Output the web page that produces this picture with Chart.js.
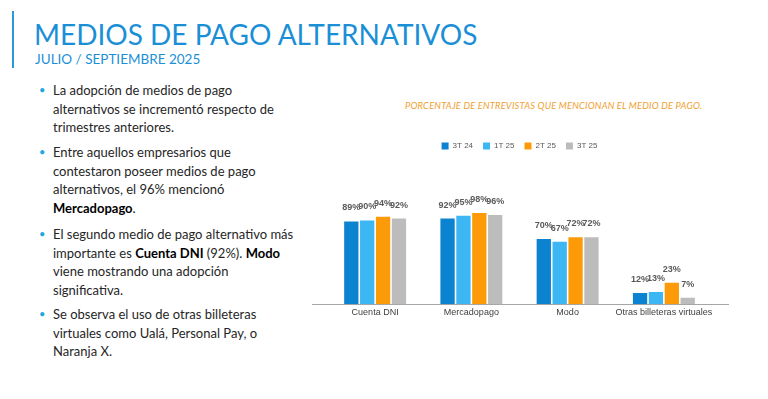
<!DOCTYPE html>
<html>
<head>
<meta charset="utf-8">
<script src="https://cdn.jsdelivr.net/npm/chart.js@4.4.1/dist/chart.umd.min.js"></script>
<style>
  html, body { margin: 0; padding: 0; background: #fff; }
  body { width: 768px; height: 399px; position: relative; overflow: hidden; font-family: 'Lato', sans-serif; }
  .bar-left { position: absolute; left: 12px; top: 11px; width: 2px; height: 57px; background: #2a9ad8; }
  .title { position: absolute; left: 34px; top: 18px; font-size: 28px; color: #1b8fd6; white-space: nowrap; line-height: 32px; }
  .subtitle { position: absolute; left: 35px; top: 51px; font-size: 13.5px; color: #1b8fd6; white-space: nowrap; line-height: 16px; }
  .bullets { position: absolute; left: 53px; top: 0; color: #262626; font-size: 13px; line-height: 18.5px; }
  .bullets p { position: absolute; left: 0; margin: 0; white-space: nowrap; }
  .bullets p::before { content: '•'; position: absolute; left: -14px; color: #22a6e0; font-size: 11px; }
  .bullets b { color: #000; }
  .chart-note { position: absolute; left: 405px; top: 100px; font-size: 9.3px; font-style: italic; color: #f0a030; white-space: nowrap; letter-spacing: 0.2px; }
  .chart-box { position: absolute; left: 300px; top: 132px; width: 440px; height: 189px; }
</style>
</head>
<body>
<div class="bar-left"></div>
<div class="title">MEDIOS DE PAGO ALTERNATIVOS</div>
<div class="subtitle">JULIO / SEPTIEMBRE 2025</div>
<div class="bullets">
  <p style="top:81px">La adopción de medios de pago<br>alternativos se incrementó respecto de<br>trimestres anteriores.</p>
  <p style="top:143px">Entre aquellos empresarios que<br>contestaron poseer medios de pago<br>alternativos, el 96% mencionó<br><b>Mercadopago</b>.</p>
  <p style="top:225px">El segundo medio de pago alternativo más<br>importante es <b>Cuenta DNI</b> (92%). <b>Modo</b><br>viene mostrando una adopción<br>significativa.</p>
  <p style="top:305px">Se observa el uso de otras billeteras<br>virtuales como Ualá, Personal Pay, o<br>Naranja X.</p>
</div>
<div class="chart-note">PORCENTAJE DE ENTREVISTAS QUE MENCIONAN EL MEDIO DE PAGO.</div>
<div class="chart-box"><canvas id="chart" width="440" height="189"></canvas></div>

<script>
const categories = ['Cuenta DNI', 'Mercadopago', 'Modo', 'Otras billeteras virtuales'];
const periods = ['3T 24', '1T 25', '2T 25', '3T 25'];
const values3T24 = [89, 92, 70, 12];
const values1T25 = [90, 95, 67, 13];
const values2T25 = [94, 98, 72, 23];
const values3T25 = [92, 96, 72, 7];
const colors = ['#0b83d1', '#3db6f4', '#fd9a08', '#bcbcbc'];

// Etiquetas de porcentaje sobre cada barra
const valueLabels = {
  id: 'valueLabels',
  afterDatasetsDraw(chart) {
    const { ctx } = chart;
    ctx.save();
    ctx.font = 'bold 9px Arial, "Liberation Sans", sans-serif';
    ctx.fillStyle = '#595959';
    ctx.textAlign = 'center';
    ctx.textBaseline = 'bottom';
    chart.data.datasets.forEach((ds, i) => {
      chart.getDatasetMeta(i).data.forEach((bar, j) => {
        ctx.fillText(ds.data[j] + '%', bar.x, bar.y - 9);
      });
    });
    ctx.restore();
  },
};

// Línea base más ancha que el área de categorías
const baseLine = {
  id: 'baseLine',
  beforeDatasetsDraw(chart) {
    const { ctx, chartArea } = chart;
    const y = Math.round(chart.scales.y.getPixelForValue(0)) + 0.5;
    ctx.save();
    ctx.strokeStyle = '#a6a6a6';
    ctx.lineWidth = 1;
    ctx.beginPath();
    ctx.moveTo(chartArea.left - 15, y);
    ctx.lineTo(chartArea.right + 17, y);
    ctx.stroke();
    ctx.restore();
  },
};

const seriesValues = [values3T24, values1T25, values2T25, values3T25];

new Chart(document.getElementById('chart'), {
  type: 'bar',
  data: {
    labels: categories,
    datasets: periods.map((p, i) => ({
      label: p,
      data: seriesValues[i],
      backgroundColor: colors[i],
      barPercentage: 0.9,
      categoryPercentage: 0.66,
    })),
  },
  options: {
    responsive: false,
    animation: false,
    layout: { padding: { left: 27, right: 28, top: 0, bottom: 0 } },
    plugins: {
      legend: {
        position: 'top',
        labels: {
          boxWidth: 7,
          boxHeight: 7,
          padding: 10,
          color: '#595959',
          font: { size: 8, family: 'Arial, "Liberation Sans", sans-serif' },
        },
      },
      tooltip: { enabled: false },
    },
    scales: {
      x: {
        grid: { display: false, drawTicks: false },
        border: { display: false },
        ticks: {
          color: '#404040',
          padding: 3,
          maxRotation: 0,
          autoSkip: false,
          font: { size: 9, family: 'Arial, "Liberation Sans", sans-serif' },
        },
      },
      y: {
        display: false,
        min: 0,
        max: 155,
      },
    },
  },
  plugins: [valueLabels, baseLine],
});
</script>
</body>
</html>
